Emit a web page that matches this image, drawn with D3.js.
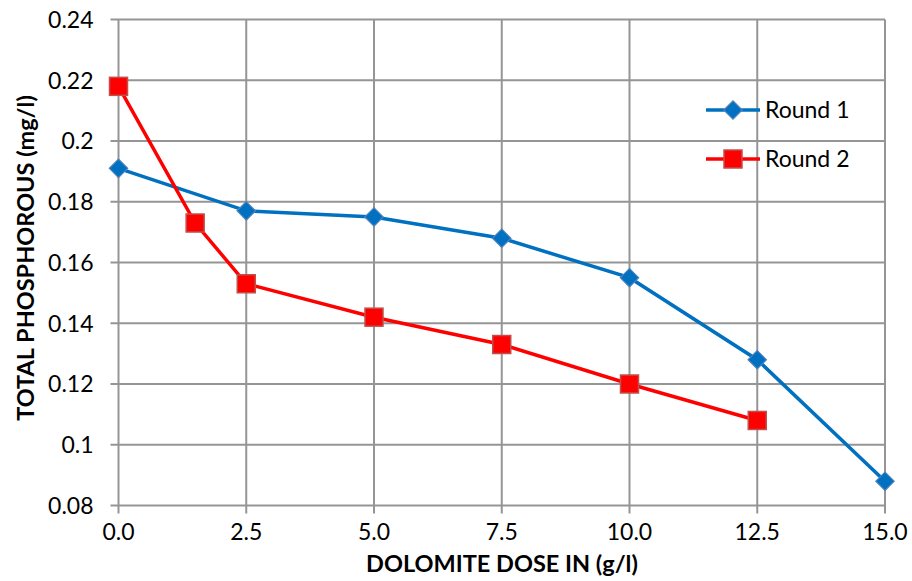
<!DOCTYPE html>
<html>
<head>
<meta charset="utf-8">
<script src="https://cdn.jsdelivr.net/npm/d3@7"></script>
<style>
  body { margin: 0; background: #fff; }
  text { font-family: Lato, "Open Sans", sans-serif; }
</style>
</head>
<body>
<div id="chart"></div>
<script>
// chart data
const round1X = [0, 2.5, 5, 7.5, 10, 12.5, 15];
const round1Y = [0.191, 0.177, 0.175, 0.168, 0.155, 0.128, 0.088];
const round2X = [0, 1.5, 2.5, 5, 7.5, 10, 12.5];
const round2Y = [0.218, 0.173, 0.153, 0.142, 0.133, 0.120, 0.108];
const xTicks = [0, 2.5, 5, 7.5, 10, 12.5, 15];
const yTicks = [0.08, 0.1, 0.12, 0.14, 0.16, 0.18, 0.2, 0.22, 0.24];
const seriesNames = ['Round 1', 'Round 2'];

const W = 912, H = 581;
const margin = {top: 19.5, right: 27, bottom: 75.5, left: 118.5};

const svg = d3.select('#chart').append('svg')
  .attr('width', W).attr('height', H);

const x = d3.scaleLinear().domain([0, 15]).range([margin.left, W - margin.right]);
const y = d3.scaleLinear().domain([0.08, 0.24]).range([H - margin.bottom, margin.top]);

const grid = svg.append('g').attr('id', 'grid');
grid.selectAll('line.h').data(yTicks).enter().append('line')
  .attr('x1', margin.left - 8).attr('x2', W - margin.right)
  .attr('y1', d => y(d)).attr('y2', d => y(d))
  .style('stroke', '#959595').style('stroke-width', 2);
grid.selectAll('line.v').data(xTicks).enter().append('line')
  .attr('x1', d => x(d)).attr('x2', d => x(d))
  .attr('y1', margin.top).attr('y2', H - margin.bottom + 8)
  .style('stroke', '#959595').style('stroke-width', 2);

// tick labels
svg.append('g').selectAll('text').data(yTicks).enter().append('text')
  .attr('x', margin.left - 25).attr('y', d => y(d))
  .attr('dy', '0.36em').attr('text-anchor', 'end')
  .style('font-size', '23px')
  .text(d => d3.format('')(+d.toFixed(2)));
svg.append('g').selectAll('text').data(xTicks).enter().append('text')
  .attr('x', d => x(d)).attr('y', H - margin.bottom + 34)
  .attr('text-anchor', 'middle')
  .style('font-size', '23px')
  .text(d => d3.format('.1f')(d));

// axis titles
svg.append('text')
  .attr('x', 502).attr('y', 572)
  .attr('text-anchor', 'middle')
  .style('font-size', '23.5px').style('font-weight', 'bold')
  .text('DOLOMITE DOSE IN (g/l)');
svg.append('text')
  .attr('transform', 'translate(34,258) rotate(-90)')
  .attr('text-anchor', 'middle')
  .style('font-size', '23.5px').style('font-weight', 'bold')
  .text('TOTAL PHOSPHOROUS (mg/l)');

const line = d3.line().x(d => x(d[0])).y(d => y(d[1]));
const r1 = round1X.map((v, i) => [v, round1Y[i]]);
const r2 = round2X.map((v, i) => [v, round2Y[i]]);

const blue = '#0070c0', red = '#ff0000';

svg.append('path').datum(r1).attr('d', line)
  .style('fill', 'none').style('stroke', blue).style('stroke-width', 3.5);
svg.append('path').datum(r2).attr('d', line)
  .style('fill', 'none').style('stroke', red).style('stroke-width', 3.5);

function drawDiamond(g, cx, cy) {
  g.append('rect').attr('x', -6.5).attr('y', -6.5)
    .attr('width', 13).attr('height', 13)
    .attr('transform', `translate(${cx},${cy}) rotate(45)`)
    .style('fill', blue).style('stroke', '#4f81bd').style('stroke-width', 1.2);
}
function drawSquare(g, cx, cy) {
  g.append('rect').attr('x', cx - 9).attr('y', cy - 9)
    .attr('width', 18).attr('height', 18)
    .style('fill', red).style('stroke', '#c0504d').style('stroke-width', 1.5);
}

const marks = svg.append('g');
r1.forEach(d => drawDiamond(marks, x(d[0]), y(d[1])));
r2.forEach(d => drawSquare(marks, x(d[0]), y(d[1])));

// legend
const legend = svg.append('g');
const legY = [110, 159];
seriesNames.forEach((name, i) => {
  legend.append('line')
    .attr('x1', 706).attr('x2', 760).attr('y1', legY[i]).attr('y2', legY[i])
    .style('stroke', i === 0 ? blue : red).style('stroke-width', 3.5);
  if (i === 0) drawDiamond(legend, 733, legY[i]);
  else drawSquare(legend, 733, legY[i]);
  legend.append('text')
    .attr('x', 765).attr('y', legY[i]).attr('dy', '0.36em')
    .style('font-size', '23px')
    .text(name);
});
</script>
</body>
</html>
